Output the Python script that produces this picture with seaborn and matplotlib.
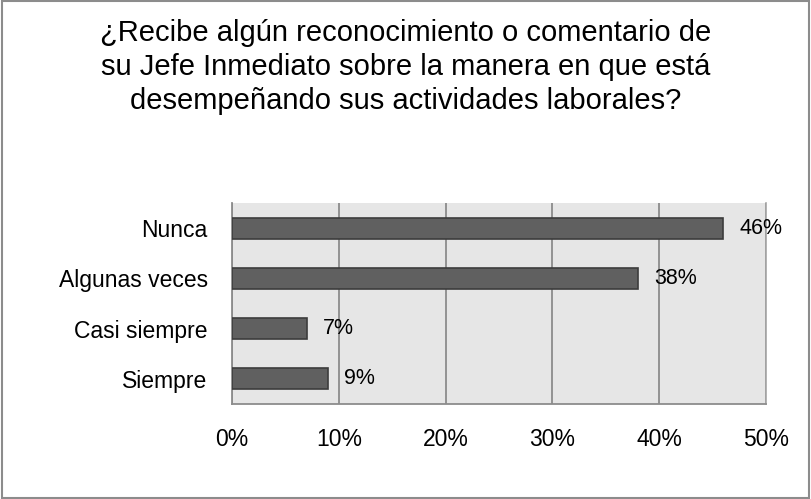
import matplotlib
matplotlib.use("Agg")
import matplotlib.pyplot as plt
import seaborn as sns
import pandas as pd
from matplotlib.patches import Rectangle

categories = ["Nunca", "Algunas veces", "Casi siempre", "Siempre"]
values = [46, 38, 7, 9]
xticks = [0, 10, 20, 30, 40, 50]
title = "¿Recibe algún reconocimiento o comentario de\nsu Jefe Inmediato sobre la manera en que está\ndesempeñando sus actividades laborales?"

sns.set_theme(style="white")
plt.rcParams["font.family"] = ["Liberation Sans", "DejaVu Sans"]

df = pd.DataFrame({"cat": categories, "val": values})

fig = plt.figure(figsize=(8.12, 4.99), dpi=100)
fig.patch.set_facecolor("white")
ax = fig.add_axes([232/812, 1-404/499, (766-232)/812, (404-203)/499])
ax.set_facecolor("#e6e6e6")

sns.barplot(data=df, x="val", y="cat", orient="h", color="#606060",
            saturation=1, width=0.42, edgecolor="#3c3c3c", linewidth=1.2, ax=ax, zorder=3)

ax.set_xlim(0, 50)
ax.set_xticks(xticks)
ax.set_xticklabels([f"{t}%" for t in xticks], fontsize=16.5, color="black")
ax.tick_params(axis="x", length=0, pad=17)
ax.tick_params(axis="y", length=0, pad=17.5, labelsize=16.5, labelcolor="black")
ax.set_xlabel("")
ax.set_ylabel("")
ax.grid(axis="x", color="#8c8c8c", linewidth=1.3, zorder=0)
ax.set_axisbelow(True)

ax.spines["top"].set_visible(False)
ax.spines["right"].set_visible(True)
ax.spines["right"].set_color("#a6a6a6")
ax.spines["right"].set_linewidth(1.2)
for s in ["left", "bottom"]:
    ax.spines[s].set_color("#8c8c8c")
    ax.spines[s].set_linewidth(1.3)

for c in ax.containers:
    ax.bar_label(c, labels=[f"{v}%" for v in values], padding=11.5, fontsize=15.5, color="black")

fig.text(0.5, 0.962, title, ha="center", va="top", fontsize=21, linespacing=1.27, color="black")

fig.patches.append(Rectangle((0.002, 0.003), 0.994, 0.994, transform=fig.transFigure,
                             fill=False, edgecolor="#8c8c8c", linewidth=1.5))

fig.savefig("out.png", dpi=100)
